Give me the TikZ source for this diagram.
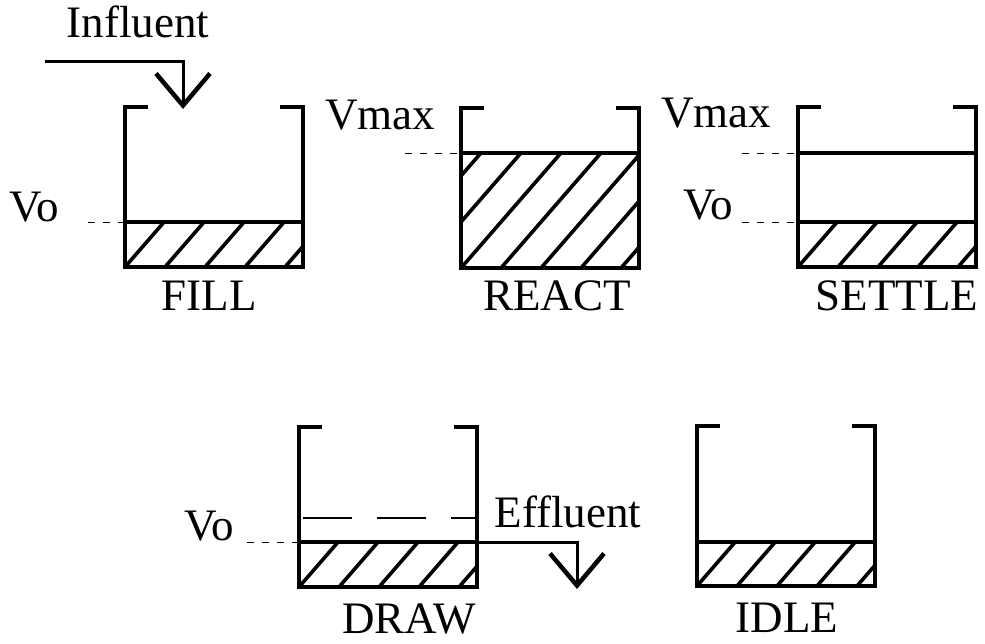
\documentclass[tikz,border=0pt]{standalone}
\usepackage{fontspec}
\setmainfont{Liberation Serif}
\usetikzlibrary{arrows.meta,positioning}

% One tank: left x, top y, liquid level y, name of its top-left corner.
\newcommand{\sbrtank}[4]{%
  \begin{scope}
    \clip (#1,#3) rectangle (#1+178,#2+160);
    \foreach \k in {-4,...,5}
      \draw[hatch] (#1+40*\k,#2+160) -- ++(139,-160);
  \end{scope}
  \draw[wall] (#1+21,#2) -- (#1,#2) -- (#1,#2+160) -- (#1+178,#2+160)
    -- (#1+178,#2) -- (#1+157,#2);
  \draw[wall] (#1,#3) -- (#1+178,#3);
  \coordinate (#4) at (#1,#2);
}

\begin{document}
\begin{tikzpicture}[
  x=1pt, y=-1pt,
  font=\fontsize{45}{54}\selectfont,
  wall/.style={line width=3.6pt, line cap=rect, line join=miter},
  hatch/.style={line width=3.6pt},
  level/.style={line width=0.9pt, dash pattern=on 7pt off 8pt},
  inner/.style={line width=1.2pt, dash pattern=on 49pt off 25pt},
  pipe/.style={line width=3pt, line join=miter,
    -{Straight Barb[length=32pt, width=54pt, line width=4.5pt]}},
  label/.style={inner sep=0pt, anchor=base}
]
\useasboundingbox (0,0) rectangle (985,644);

% Upper row: fill, react and settle.
\sbrtank{125}{107}{222}{fill}
\sbrtank{461}{108}{153}{react}
\sbrtank{798}{107}{222}{settle}
\draw[wall] (798,153) -- (976,153);

\node[label] (influent) at (138,38) {Influent};
\coordinate (inflow) at (45,62);
\coordinate (inbend) at (183,62);
\coordinate (intip) at (183,109);
\draw[pipe] (inflow) -- (inbend) -- (intip);

\node[label] (vofill) at (34,222) {Vo};
\coordinate (vofillA) at (88,222);
\coordinate (vofillB) at (123,222);
\draw[level] (vofillA) -- (vofillB);

\node[label] (vmaxreact) at (380,130) {Vmax};
\coordinate (vmaxreactA) at (405,153);
\coordinate (vmaxreactB) at (459,153);
\draw[level] (vmaxreactA) -- (vmaxreactB);

\node[label] (vmaxsettle) at (716,128) {Vmax};
\node[label] (vosettle) at (708,220) {Vo};
\coordinate (vmaxsettleA) at (742,153);
\coordinate (vmaxsettleB) at (796,153);
\coordinate (vosettleA) at (742,222);
\coordinate (vosettleB) at (796,222);
\draw[level] (vmaxsettleA) -- (vmaxsettleB);
\draw[level] (vosettleA) -- (vosettleB);

\node[label] (filltxt) at (209,310) {FILL};
\node[label] (reacttxt) at (557,310) {REACT};
\node[label] (settletxt) at (897,310) {SETTLE};

% Lower row: draw and idle.
\sbrtank{299}{427}{542}{draw}
\sbrtank{697}{426}{542}{idle}

\coordinate (drawinA) at (303,518);
\coordinate (drawinB) at (476,518);
\draw[inner] (drawinA) -- (drawinB);

\node[label] (vodraw) at (209,540) {Vo};
\coordinate (vodrawA) at (247,542);
\coordinate (vodrawB) at (297,542);
\draw[level] (vodrawA) -- (vodrawB);

\node[label] (effluent) at (568,527) {Effluent};
\coordinate (outflow) at (479,542);
\coordinate (outbend) at (577,542);
\coordinate (outtip) at (577,589);
\draw[pipe] (outflow) -- (outbend) -- (outtip);

\node[label] (drawtxt) at (409,633) {DRAW};
\node[label] (idletxt) at (787,632) {IDLE};

\end{tikzpicture}
\end{document}
